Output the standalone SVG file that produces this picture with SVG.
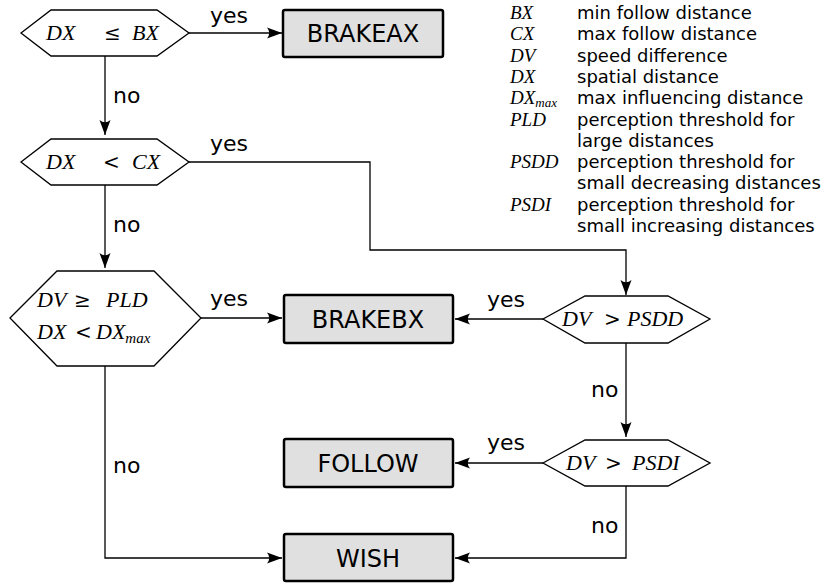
<svg xmlns="http://www.w3.org/2000/svg" width="826" height="583" viewBox="0 0 826 583">
<style>
.hex{fill:#fff;stroke:#000;stroke-width:1.3;stroke-linejoin:miter}
.box{fill:#e0e0e0;stroke:#000;stroke-width:2.5}
.bt{font-family:"DejaVu Sans",sans-serif;font-size:24px;text-anchor:middle;fill:#000}
.m{font-family:"Liberation Serif",serif;font-style:italic;font-size:22px;fill:#000}
.op{font-family:"DejaVu Serif","Liberation Serif",serif;font-size:20px;fill:#000}
.sub{font-size:15px}
.lb{font-family:"DejaVu Sans",sans-serif;font-size:22px;fill:#000}
.lm{font-family:"Liberation Serif",serif;font-style:italic;font-size:19px;fill:#000}
.ld{font-family:"DejaVu Sans",sans-serif;font-size:18px;fill:#000}
.c{fill:none;stroke:#000;stroke-width:1.3}
</style>
<defs>
<marker id="ah" markerUnits="userSpaceOnUse" markerWidth="16" markerHeight="12" refX="15" refY="6" orient="auto" overflow="visible">
<path d="M15,6 L0,0.5 Q4.5,6 0,11.5 Z" fill="#000"/>
</marker>
</defs>

<g id="connectors">
<path class="c" d="M189,33 H282" marker-end="url(#ah)"/>
<path class="c" d="M105,56 V135" marker-end="url(#ah)"/>
<path class="c" d="M189,162 H370 V250 H626 V295" marker-end="url(#ah)"/>
<path class="c" d="M105,185 V268" marker-end="url(#ah)"/>
<path class="c" d="M201,318 H282" marker-end="url(#ah)"/>
<path class="c" d="M543,319 H455" marker-end="url(#ah)"/>
<path class="c" d="M626,343 V437" marker-end="url(#ah)"/>
<path class="c" d="M543,463 H455" marker-end="url(#ah)"/>
<path class="c" d="M105,366 V558 H282" marker-end="url(#ah)"/>
<path class="c" d="M626,486 V558 H455" marker-end="url(#ah)"/>
<text class="lb" x="210" y="23">yes</text>
<text class="lb" x="113" y="103">no</text>
<text class="lb" x="210" y="151">yes</text>
<text class="lb" x="113" y="232">no</text>
<text class="lb" x="210" y="306">yes</text>
<text class="lb" x="113" y="473">no</text>
<text class="lb" x="487" y="307">yes</text>
<text class="lb" x="591" y="397">no</text>
<text class="lb" x="487" y="450">yes</text>
<text class="lb" x="591" y="533">no</text>
</g>

<g id="dec1">
<polygon class="hex" points="21,33 51,10 157,10 189,33 157,56 51,56"/>
<text class="m" y="40"><tspan x="46">DX</tspan><tspan class="op" x="104">≤</tspan><tspan x="132">BX</tspan></text>
</g>
<g id="brakeax">
<rect class="box" x="283" y="10" width="160" height="47" rx="2"/>
<text class="bt" x="363" y="42">BRAKEAX</text>
</g>
<g id="dec2">
<polygon class="hex" points="21,162 51,139 157,139 189,162 157,185 51,185"/>
<text class="m" y="169"><tspan x="46">DX</tspan><tspan class="op" x="103">&lt;</tspan><tspan x="132">CX</tspan></text>
</g>
<g id="dec3">
<polygon class="hex" points="10,318 57,271 154,271 201,318 154,366 57,366"/>
<text class="m" y="307"><tspan x="37">DV</tspan><tspan class="op" x="74">≥</tspan><tspan x="106">PLD</tspan></text>
<text class="m" y="339"><tspan x="37">DX</tspan><tspan class="op" x="75">&lt;</tspan><tspan x="96">DX</tspan><tspan class="sub" dy="4">max</tspan></text>
</g>
<g id="brakebx">
<rect class="box" x="284" y="295" width="169" height="48" rx="2"/>
<text class="bt" x="368" y="328">BRAKEBX</text>
</g>
<g id="dec4">
<polygon class="hex" points="543,319 585,296 668,296 710,319 668,343 585,343"/>
<text class="m" y="326"><tspan x="562">DV</tspan><tspan class="op" x="604">&gt;</tspan><tspan x="627">PSDD</tspan></text>
</g>
<g id="dec5">
<polygon class="hex" points="543,463 585,440 668,440 710,463 668,486 585,486"/>
<text class="m" y="470"><tspan x="566">DV</tspan><tspan class="op" x="605">&gt;</tspan><tspan x="632">PSDI</tspan></text>
</g>
<g id="follow">
<rect class="box" x="284" y="439" width="169" height="48" rx="2"/>
<text class="bt" x="368" y="472">FOLLOW</text>
</g>
<g id="wish">
<rect class="box" x="284" y="534" width="169" height="47" rx="2"/>
<text class="bt" x="368" y="567">WISH</text>
</g>

<g id="legend">
<text class="lm" x="510" y="19">BX</text><text class="ld" x="577" y="19">min follow distance</text>
<text class="lm" x="510" y="40.3">CX</text><text class="ld" x="577" y="40.3">max follow distance</text>
<text class="lm" x="510" y="61.6">DV</text><text class="ld" x="577" y="61.6">speed difference</text>
<text class="lm" x="510" y="82.9">DX</text><text class="ld" x="577" y="82.9">spatial distance</text>
<text class="lm" x="510" y="104.2">DX<tspan font-size="13" dy="3">max</tspan></text><text class="ld" x="577" y="104.2">max influencing distance</text>
<text class="lm" x="510" y="125.5">PLD</text><text class="ld" x="577" y="125.5">perception threshold for</text>
<text class="ld" x="577" y="146.8">large distances</text>
<text class="lm" x="510" y="168.1">PSDD</text><text class="ld" x="577" y="168.1">perception threshold for</text>
<text class="ld" x="577" y="189.4">small decreasing distances</text>
<text class="lm" x="510" y="210.7">PSDI</text><text class="ld" x="577" y="210.7">perception threshold for</text>
<text class="ld" x="577" y="232">small increasing distances</text>
</g>
</svg>
